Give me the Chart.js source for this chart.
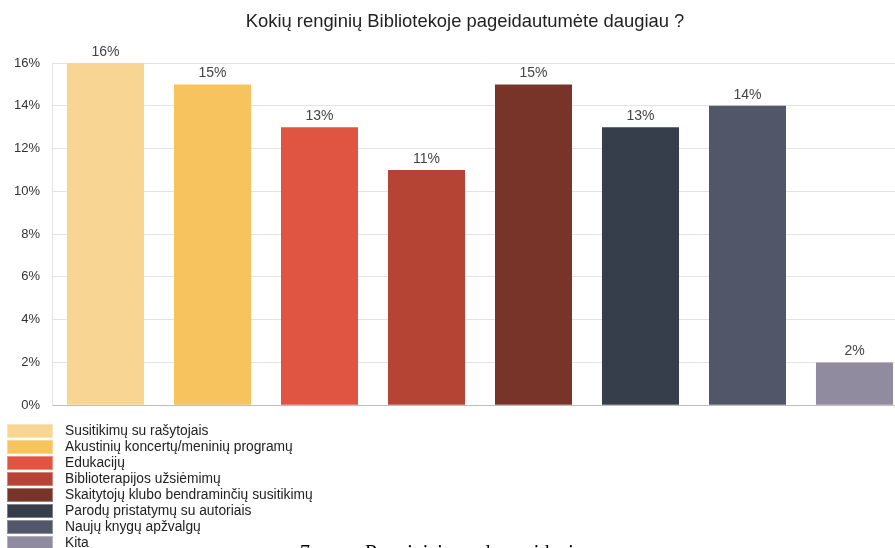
<!DOCTYPE html>
<html>
<head>
<meta charset="utf-8">
<script src="https://cdn.jsdelivr.net/npm/chart.js@4"></script>
<style>
  body { margin: 0; background: #fff; overflow: hidden; width: 895px; height: 548px; position: relative; }
  #wrap { position: absolute; left: 0; top: 0; width: 930px; height: 425px; }
  #legenda { position: absolute; left: 7px; top: 423px; font-family: "Liberation Sans", Arial, sans-serif; font-size: 13.8px; color: #222; }
  .item { height: 16px; line-height: 16px; white-space: nowrap; }
  .box { display: inline-block; width: 46px; height: 14px; vertical-align: top; margin-top: 1px; margin-right: 12px; box-sizing: border-box; border: 1px solid rgba(255,255,255,0.35); }
  #caption { position: absolute; left: 300px; top: 541px; font-family: "Liberation Serif", "Times New Roman", serif; font-size: 20px; color: #000; white-space: nowrap; }
  #caption span { display: inline-block; width: 65px; }
</style>
</head>
<body>
<div id="wrap"><canvas id="graficoRenginiai"></canvas></div>
<div id="legenda"></div>
<div id="caption"><span>7 pav.</span>Renginiai pagal pageidavimus</div>
<script>
var pavadinimas = 'Kokių renginių Bibliotekoje pageidautumėte daugiau ?';
var renginiai = [
    'Susitikimų su rašytojais',
    'Akustinių koncertų/meninių programų',
    'Edukacijų',
    'Biblioterapijos užsiėmimų',
    'Skaitytojų klubo bendraminčių susitikimų',
    'Parodų pristatymų su autoriais',
    'Naujų knygų apžvalgų',
    'Kita'
];
var procentai = [16, 15, 13, 11, 15, 13, 14, 2];
var spalvos = ['#f8d592', '#f6c35f', '#e05541', '#b54434', '#79342a', '#363d4b', '#525669', '#908b9f'];
var ylabels = ['0%', '2%', '4%', '6%', '8%', '10%', '12%', '14%', '16%'];

// legend as html list
var legenda = document.getElementById('legenda');
renginiai.forEach(function(pav, i) {
    var eil = document.createElement('div');
    eil.className = 'item';
    eil.innerHTML = '<span class="box" style="background:' + spalvos[i] + '"></span>' + pav;
    legenda.appendChild(eil);
});

// title centred over the whole canvas
var pavadinimoPluginas = {
    id: 'pavadinimoPluginas',
    afterDraw: function(chart) {
        var ctx = chart.ctx;
        ctx.save();
        ctx.font = '18.4px "Liberation Sans", Arial, sans-serif';
        ctx.fillStyle = '#222';
        ctx.textAlign = 'center';
        ctx.textBaseline = 'middle';
        ctx.fillText(pavadinimas, chart.width / 2, 22);
        ctx.restore();
    }
};

// value labels over the bars
var reiksmiuEtiketes = {
    id: 'reiksmiuEtiketes',
    afterDatasetsDraw: function(chart) {
        var ctx = chart.ctx;
        var meta = chart.getDatasetMeta(0);
        ctx.save();
        ctx.font = '14px "Liberation Sans", Arial, sans-serif';
        ctx.fillStyle = '#444';
        ctx.textAlign = 'center';
        ctx.textBaseline = 'bottom';
        meta.data.forEach(function(bar, i) {
            ctx.fillText(procentai[i] + '%', bar.x, bar.y - 4);
        });
        ctx.restore();
    }
};

var ctx = document.getElementById('graficoRenginiai').getContext('2d');
new Chart(ctx, {
    type: 'bar',
    data: {
        labels: renginiai,
        datasets: [{
            data: procentai,
            backgroundColor: spalvos,
            borderWidth: 0,
            categoryPercentage: 0.72,
            barPercentage: 1
        }]
    },
    options: {
        responsive: true,
        maintainAspectRatio: false,
        animation: false,
        layout: { padding: { left: 0, right: 22, top: 63, bottom: 6 } },
        plugins: {
            legend: { display: false },
            tooltip: { enabled: false },
            title: { display: false }
        },
        scales: {
            x: {
                ticks: { display: false },
                grid: { display: false },
                border: { color: '#bdbdbd', width: 1 }
            },
            y: {
                min: 0,
                max: 16,
                ticks: {
                    stepSize: 2,
                    color: '#333',
                    padding: 12,
                    font: { size: 13, family: '"Liberation Sans", Arial, sans-serif' },
                    callback: function(v, i) { return ylabels[i]; }
                },
                grid: { color: '#e3e3e3', drawTicks: false },
                border: { color: '#e3e3e3' },
                afterFit: function(scale) { scale.width = 52; }
            }
        }
    },
    plugins: [reiksmiuEtiketes, pavadinimoPluginas]
});
</script>
</body>
</html>
